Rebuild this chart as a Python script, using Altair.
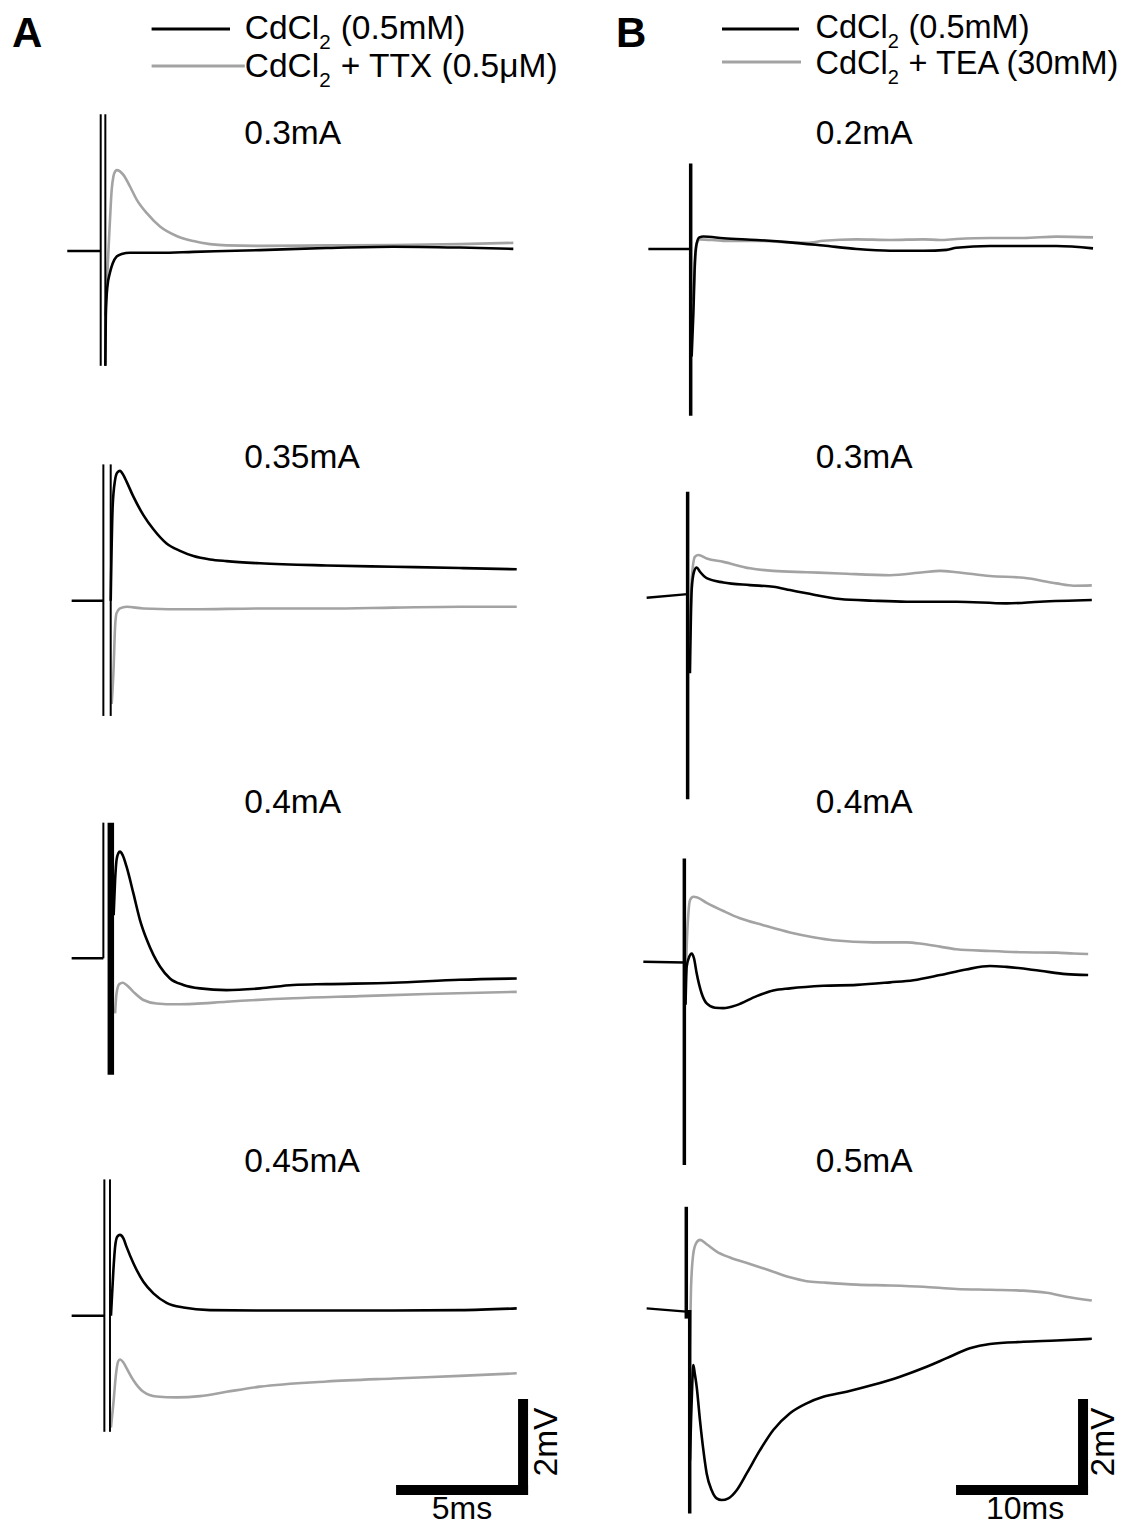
import altair as alt
import pandas as pd

# ---------------- DATA (time in ms, voltage in mV relative to each sweep's baseline) -------------
a_currents = ["0.3mA", "0.35mA", "0.4mA", "0.45mA"]
b_currents = ["0.2mA", "0.3mA", "0.4mA", "0.5mA"]
legend_black_a = "(0.5mM)"
legend_gray_a = "+ TTX (0.5μM)"
legend_black_b = "(0.5mM)"
legend_gray_b = "+ TEA (30mM)"
drug = "CdCl"
sub2 = "2"
scale_a = ["5ms", "2mV"]
scale_b = ["10ms", "2mV"]
scale_a_len = [5.0, 2.0]
scale_b_len = [10.0, 2.0]

# ---- Column A (CdCl2 vs CdCl2 + TTX) ----
a1_base = [[-1.37, 0.0], [0.0, 0.0]]
a1_black = [[0.19, -2.67], [0.21, -1.5], [0.27, -0.85], [0.38, -0.5], [0.49, -0.29], [0.65, -0.13],
            [0.86, -0.07], [1.2, -0.04], [2.43, -0.04], [3.8, -0.02], [6.53, 0.02], [9.26, 0.07],
            [11.99, 0.10], [14.72, 0.08], [16.91, 0.05]]
a1_gray = [[0.19, -1.5], [0.30, -0.2], [0.38, 0.72], [0.45, 1.42], [0.52, 1.73], [0.59, 1.85],
           [0.66, 1.88], [0.93, 1.77], [1.20, 1.50], [1.48, 1.19], [1.89, 0.88], [2.43, 0.57],
           [3.11, 0.35], [3.80, 0.23], [4.48, 0.16], [5.16, 0.13], [6.53, 0.12], [9.26, 0.13],
           [11.99, 0.14], [14.72, 0.16], [16.91, 0.19]]
a1_art = [[0.0, 3.18, -2.67], [0.19, 3.18, -2.67]]

a2_base = [[-1.19, 0.0], [0.109, 0.0]]
a2_black = [[0.41, 0.0], [0.49, 2.19], [0.59, 2.81], [0.68, 2.98], [0.79, 3.02], [0.93, 2.92],
            [1.06, 2.77], [1.34, 2.42], [1.75, 1.99], [2.16, 1.66], [2.70, 1.33], [3.25, 1.16],
            [3.80, 1.04], [4.48, 0.96], [5.16, 0.92], [6.53, 0.87], [9.26, 0.82], [11.99, 0.79],
            [14.72, 0.76], [17.05, 0.73]]
a2_gray = [[0.45, -2.4], [0.52, -1.69], [0.59, -0.60], [0.65, -0.29], [0.79, -0.18], [1.06, -0.14],
           [1.75, -0.18], [3.80, -0.20], [6.53, -0.18], [9.26, -0.18], [11.99, -0.16],
           [14.72, -0.14], [17.05, -0.14]]
a2_art = [[0.109, 3.17, -2.68], [0.41, 3.17, -2.68]]

a3_base = [[-1.19, 0.0], [0.109, 0.0]]
a3_black = [[0.53, 1.0], [0.59, 1.82], [0.65, 2.29], [0.72, 2.44], [0.79, 2.48], [0.90, 2.40],
            [1.06, 2.13], [1.34, 1.51], [1.61, 0.89], [1.89, 0.43], [2.16, 0.08], [2.43, -0.19],
            [2.84, -0.47], [3.39, -0.62], [4.07, -0.70], [5.16, -0.74], [6.53, -0.70],
            [7.89, -0.62], [9.26, -0.60], [11.99, -0.57], [14.72, -0.50], [17.05, -0.47]]
a3_gray = [[0.59, -1.28], [0.65, -0.81], [0.76, -0.60], [0.90, -0.57], [1.06, -0.62], [1.34, -0.78],
           [1.75, -0.97], [2.29, -1.05], [3.11, -1.07], [3.80, -1.06], [5.16, -1.01],
           [7.89, -0.93], [10.62, -0.88], [13.36, -0.83], [17.05, -0.78]]
a3_art = [[0.109, 3.155, 0.0], [0.415, 3.155, -2.71]]

a4_base = [[-1.19, 0.0], [0.15, 0.0]]
a4_black = [[0.42, 0.0], [0.52, 1.06], [0.59, 1.60], [0.68, 1.84], [0.79, 1.88], [0.93, 1.80],
            [1.06, 1.60], [1.34, 1.22], [1.75, 0.79], [2.16, 0.52], [2.70, 0.30], [3.39, 0.19],
            [4.48, 0.13], [6.53, 0.12], [9.26, 0.12], [11.99, 0.12], [14.72, 0.13], [17.05, 0.17]]
a4_gray = [[0.42, -2.6], [0.52, -2.04], [0.63, -1.34], [0.71, -1.07], [0.79, -1.02], [0.93, -1.09],
           [1.06, -1.22], [1.34, -1.50], [1.75, -1.77], [2.29, -1.88], [3.11, -1.90],
           [4.07, -1.87], [5.16, -1.77], [6.53, -1.65], [9.26, -1.53], [11.99, -1.46],
           [14.72, -1.40], [17.05, -1.34]]
a4_art = [[0.15, 3.17, -2.70], [0.38, 3.17, -2.70]]

# ---- Column B (CdCl2 vs CdCl2 + TEA) ----
b1_base = [[-3.25, 0.0], [0.11, 0.0]]
b1_black = [[0.30, -2.5], [0.44, -1.50], [0.57, -0.26], [0.71, 0.13], [0.93, 0.27], [1.26, 0.29],
            [2.90, 0.25], [5.63, 0.21], [8.36, 0.155], [11.09, 0.08], [13.83, 0.0],
            [16.56, -0.04], [19.29, -0.04], [21.2, -0.02], [22.0, 0.03], [24.75, 0.07],
            [27.5, 0.07], [30.2, 0.07], [33.2, 0.015]]
b1_gray = [[0.44, -1.2], [0.71, 0.116], [0.98, 0.225], [2.90, 0.19], [5.63, 0.19], [8.36, 0.155],
           [9.73, 0.147], [11.09, 0.19], [13.83, 0.225], [16.56, 0.21], [19.29, 0.225],
           [20.66, 0.21], [22.0, 0.233], [24.75, 0.256], [27.5, 0.256], [30.2, 0.287],
           [33.2, 0.271]]
b1_art = [[0.22, 1.99, -3.88]]

b2_base = [[-3.39, -0.023], [-0.03, 0.06]]
b2_black = [[0.16, -1.78], [0.30, 0.155], [0.49, 0.58], [0.71, 0.68], [0.98, 0.58], [1.53, 0.43],
            [2.90, 0.33], [5.08, 0.27], [6.99, 0.23], [8.36, 0.155], [9.73, 0.078],
            [12.46, -0.054], [15.19, -0.093], [17.92, -0.116], [22.0, -0.116], [26.1, -0.155],
            [28.85, -0.116], [33.1, -0.078]]
b2_gray = [[0.16, -1.0], [0.30, 0.39], [0.57, 0.93], [0.85, 0.97], [1.53, 0.89], [2.90, 0.81],
           [5.08, 0.66], [6.99, 0.60], [9.73, 0.57], [12.46, 0.54], [16.56, 0.50], [19.29, 0.57],
           [20.66, 0.60], [22.0, 0.57], [24.75, 0.48], [27.5, 0.44], [30.2, 0.31], [31.6, 0.256],
           [33.1, 0.264]]
b2_art = [[-0.03, 2.44, -4.71]]

b3_base = [[-3.66, 0.0], [-0.30, -0.02]]
b3_black = [[-0.2, -1.0], [-0.11, -0.12], [0.11, 0.12], [0.30, 0.19], [0.49, 0.08], [0.71, -0.27],
            [1.12, -0.74], [1.53, -0.97], [2.21, -1.07], [2.90, -1.08], [3.99, -1.01],
            [5.63, -0.80], [6.99, -0.67], [8.36, -0.62], [11.09, -0.56], [13.83, -0.54],
            [16.56, -0.48], [18.47, -0.43], [20.66, -0.31], [22.8, -0.18], [24.75, -0.10],
            [26.1, -0.12], [28.85, -0.21], [31.0, -0.29], [32.8, -0.31]]
b3_gray = [[-0.2, -0.5], [-0.11, 0.35], [0.03, 1.12], [0.16, 1.43], [0.44, 1.51], [0.71, 1.50],
           [1.53, 1.37], [2.90, 1.18], [4.26, 1.01], [6.17, 0.85], [8.36, 0.68], [10.27, 0.57],
           [11.91, 0.50], [15.19, 0.45], [17.92, 0.45], [19.29, 0.41], [20.66, 0.35],
           [22.0, 0.29], [24.75, 0.25], [27.5, 0.22], [30.2, 0.21], [31.6, 0.19], [32.8, 0.18]]
b3_art = [[-0.30, 2.40, -4.73]]

b4_base = [[-3.39, 0.039], [-0.14, -0.039]]
b4_black = [[0.16, -3.5], [0.25, -2.56], [0.36, -1.63], [0.44, -1.28], [0.55, -1.47], [0.71, -1.78],
            [0.98, -2.56], [1.26, -3.26], [1.53, -3.80], [1.94, -4.19], [2.35, -4.38],
            [2.76, -4.42], [3.31, -4.38], [3.99, -4.19], [4.81, -3.80], [5.90, -3.26],
            [6.99, -2.79], [8.36, -2.40], [9.73, -2.17], [11.09, -2.02], [13.0, -1.90],
            [15.19, -1.74], [17.38, -1.55], [19.56, -1.32], [21.2, -1.12], [23.1, -0.89],
            [24.75, -0.79], [27.5, -0.74], [30.2, -0.71], [33.1, -0.67]]
b4_gray = [[0.14, -0.9], [0.25, 0.54], [0.44, 1.32], [0.66, 1.55], [0.98, 1.63], [1.53, 1.53],
           [2.35, 1.36], [3.44, 1.22], [5.08, 1.07], [6.99, 0.89], [8.36, 0.76], [9.73, 0.67],
           [11.09, 0.64], [13.83, 0.59], [16.56, 0.57], [19.29, 0.54], [22.0, 0.49],
           [24.75, 0.47], [27.5, 0.45], [29.4, 0.40], [31.0, 0.31], [33.1, 0.22]]
b4_art = [[-0.14, 2.40, -0.2], [0.14, 0.0, -4.73]]

# ---------------- LAYOUT / STYLE (not data) ----------------
FONT = "Liberation Sans"
FS = 33.5
GRAY = "#a3a3a3"
PX_PER_MV = 43.0
H = 1518
Y_DOMAIN = [-H / PX_PER_MV, 0.0]
WA, WB, SPACING = 560, 541, 12
B_ORIGIN = 8 + WA + SPACING
PX_PER_MS_A, PX_PER_MS_B = 24.4, 12.2
X0A, X0B = 100.7 - 8, 688 - B_ORIGIN  # stimulus position inside each panel (px)
XDOM_A = [-X0A / PX_PER_MS_A, (WA - X0A) / PX_PER_MS_A]
XDOM_B = [-X0B / PX_PER_MS_B, (WB - X0B) / PX_PER_MS_B]
BAR_PAGE_Y = 1490


def off(page_px):
    return -(page_px - 8) / PX_PER_MV


base_px = {"A": [251, 600.7, 958.3, 1315.7], "B": [249, 596.7, 961.7, 1310]}
title_base_px = [136, 460, 805, 1164]
art_width = {"A": [2, 2, None, 2], "B": [3.5, 3.5, 3.5, 3.5]}

panels = {
    "A": [(a1_base, a1_black, a1_gray, a1_art), (a2_base, a2_black, a2_gray, a2_art),
          (a3_base, a3_black, a3_gray, a3_art), (a4_base, a4_black, a4_gray, a4_art)],
    "B": [(b1_base, b1_black, b1_gray, b1_art), (b2_base, b2_black, b2_gray, b2_art),
          (b3_base, b3_black, b3_gray, b3_art), (b4_base, b4_black, b4_gray, b4_art)],
}


def build(col):
    rows, base_rows, arts = [], [], []
    for r, (base, blk, gry, art) in enumerate(panels[col]):
        o = off(base_px[col][r])
        for i, (t, v) in enumerate(base):
            base_rows.append(dict(seg=f"{r}base", i=i, t=t, y=v + o))
        for name, tr in (("black", blk), ("gray", gry)):
            for i, (t, v) in enumerate(tr):
                rows.append(dict(cond=name, seg=f"{r}{name}", i=i, t=t, y=v + o))
        for k, (t, top, bot) in enumerate(art):
            w = art_width[col][r]
            if w is None:
                w = 2 if k == 0 else 6.5
            arts.append(dict(t=t, y=top + o, y2=bot + o, w=w))
    return pd.DataFrame(rows), pd.DataFrame(base_rows), pd.DataFrame(arts)


def txt(s, px, py, size=FS, align="left", angle=0, weight="normal"):
    return alt.Chart(pd.DataFrame({"s": [s]})).mark_text(
        align=align, baseline="alphabetic", fontSize=size, font=FONT, angle=angle,
        fontWeight=weight, color="black"
    ).encode(x=alt.value(px), y=alt.value(py), text="s:N")


def hline(x1, x2, py, color, w=3):
    return alt.Chart(pd.DataFrame({"k": [0]})).mark_rule(color=color, strokeWidth=w).encode(
        x=alt.value(x1), x2=alt.value(x2), y=alt.value(py))


def column(col, xdom, width, labels, letter, legend, scale_txt, scale_len, bar_t0, title_x,
           letter_x, leg_x, scale_txt_px):
    df, bdf, art = build(col)
    xs = alt.Scale(domain=xdom, nice=False, zero=False)
    ys = alt.Scale(domain=Y_DOMAIN, nice=False, zero=False)
    x = alt.X("t:Q", scale=xs, axis=None)
    y = alt.Y("y:Q", scale=ys, axis=None)
    gray = alt.Chart(df[df.cond == "gray"]).mark_line(
        color=GRAY, strokeWidth=2.6, strokeJoin="round", interpolate="monotone").encode(
        x=x, y=y, detail="seg:N", order="i:Q")
    black = alt.Chart(df[df.cond == "black"]).mark_line(
        color="black", strokeWidth=2.6, strokeJoin="round", interpolate="monotone").encode(
        x=x, y=y, detail="seg:N", order="i:Q")
    basel = alt.Chart(bdf).mark_line(color="black", strokeWidth=2.4).encode(
        x=x, y=y, detail="seg:N", order="i:Q")
    arts = alt.Chart(art).mark_rule(color="black").encode(
        x=x, y=y, y2="y2:Q", strokeWidth=alt.StrokeWidth("w:Q", scale=None))
    yb = off(BAR_PAGE_Y)
    hbar = alt.Chart(pd.DataFrame({"t": [bar_t0], "t2": [bar_t0 + scale_len[0]], "y": [yb]})).mark_rule(
        color="black", strokeWidth=10, strokeCap="square").encode(x=x, x2="t2:Q", y=y)
    vbar = alt.Chart(pd.DataFrame({"t": [bar_t0 + scale_len[0]], "y": [yb], "y2": [yb + scale_len[1]]})).mark_rule(
        color="black", strokeWidth=10, strokeCap="square").encode(x=x, y=y, y2="y2:Q")
    layers = [gray, basel, arts, black, hbar, vbar]
    for r, lab in enumerate(labels):
        layers.append(txt(lab, title_x, title_base_px[r]))
    layers.append(txt(letter, letter_x, 39, size=42, weight="bold"))
    # legend
    lx1, lx2, gx2, tx = leg_x
    (yl1, yl2, b1, b2, lfs) = legend["pos"]
    layers.append(hline(lx1, lx2, yl1, "black"))
    layers.append(hline(lx1, gx2, yl2, GRAY))
    cw = lfs * 2.222
    for bl, rest in ((b1, legend["black"]), (b2, legend["gray"])):
        layers.append(txt(drug, tx, bl, size=lfs))
        layers.append(txt(sub2, tx + cw, bl + 9.5, size=lfs * 0.615))
        layers.append(txt(rest, tx + cw + lfs * 0.64, bl, size=lfs))
    # scale labels
    hx, vx = scale_txt_px
    layers.append(txt(scale_txt[0], hx, 1511, size=32, align="center"))
    layers.append(txt(scale_txt[1], vx, 1434, align="center", angle=270))
    return alt.layer(*layers).properties(width=width, height=H)


chart_a = column("A", XDOM_A, WA, a_currents, "A",
                 {"black": legend_black_a, "gray": legend_gray_a, "pos": (21, 58, 31, 69, 33.5)},
                 scale_a, scale_a_len, 12.31, 236.3, 4, (143.6, 222, 236.8, 236.8), (454, 549))
chart_b = column("B", XDOM_B, WB, b_currents, "B",
                 {"black": legend_black_b, "gray": legend_gray_b, "pos": (21, 54, 30, 66, 32.5)},
                 scale_b, scale_b_len, 22.38, 235.7, 36, (142, 219, 221, 235.5), (445, 534))

chart = alt.hconcat(chart_a, chart_b, spacing=SPACING, bounds="flush").resolve_scale(
    x="independent", y="independent"
).configure_view(strokeWidth=0).properties(padding=0, background="white")

chart.save("out.html", embed_options={"renderer": "svg", "actions": False})
